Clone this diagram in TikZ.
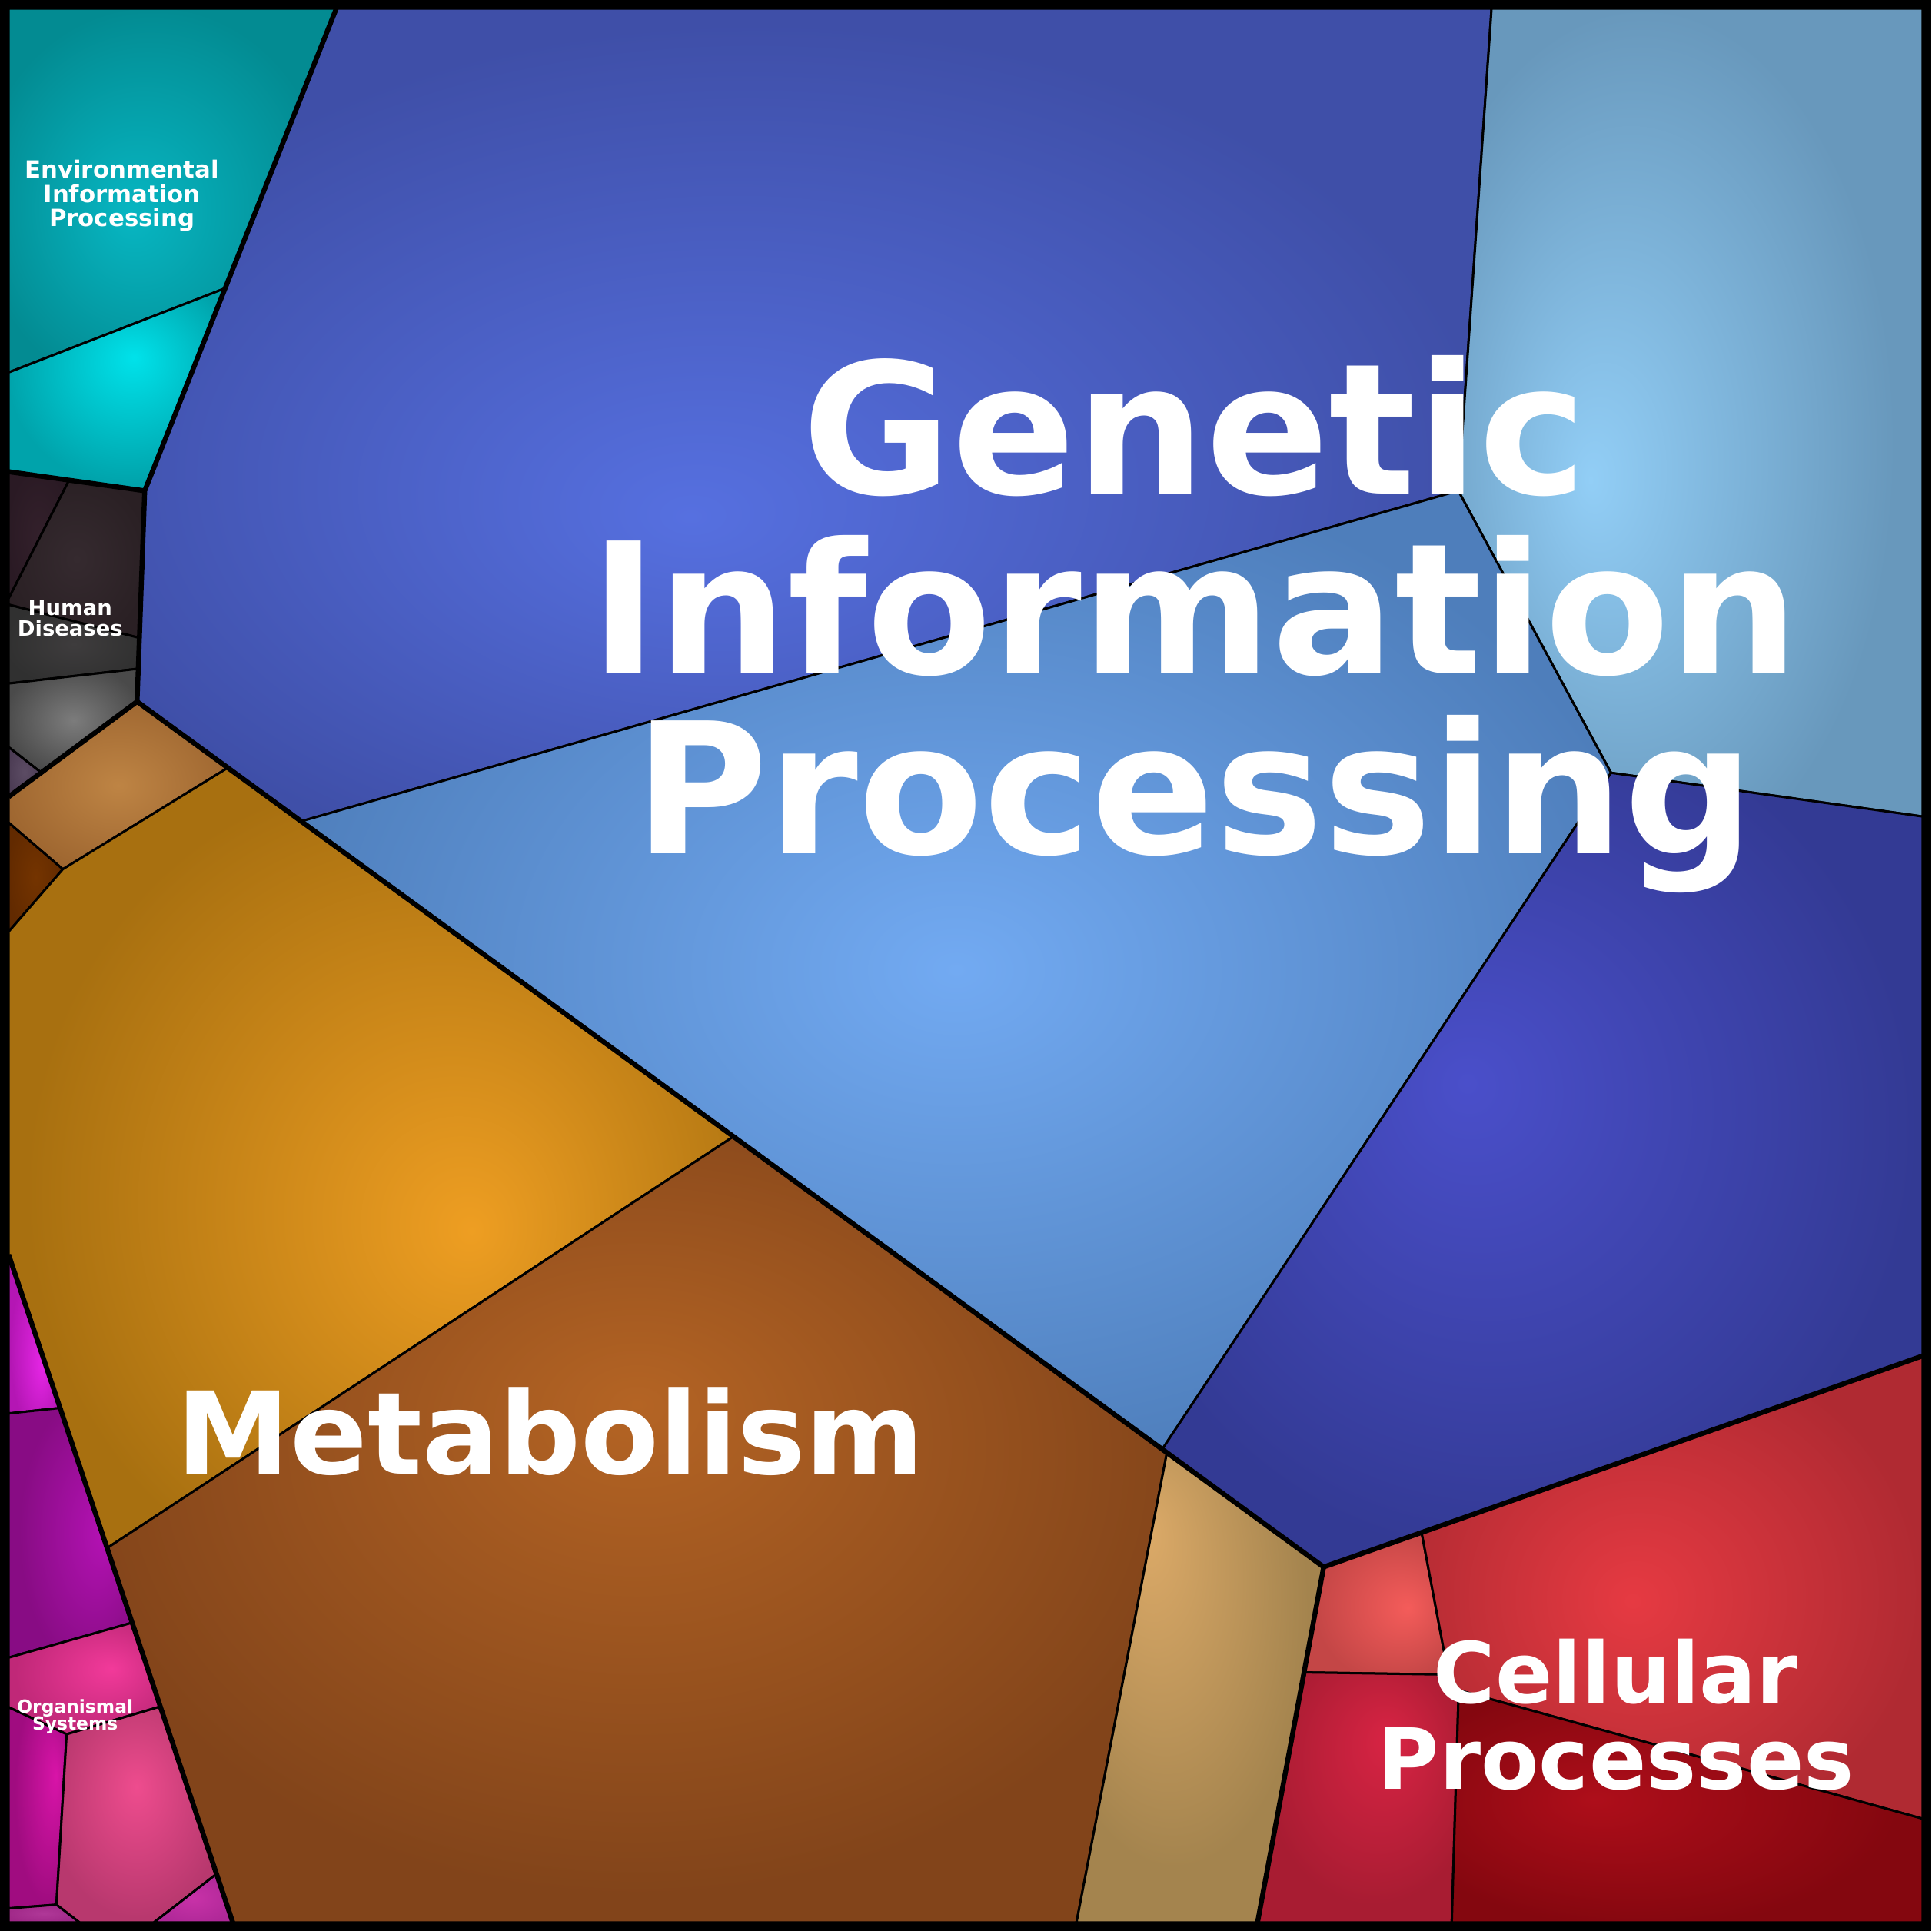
\documentclass[tikz,border=0pt]{standalone}
\usepackage{fontspec}
\newfontfamily\cellfont{DejaVu Sans}

\newcounter{cellno}
\newcommand{\voronoicell}[5]{%
  \stepcounter{cellno}\edef\glowname{cellglow\arabic{cellno}}%
  \definecolor{cellin}{HTML}{#1}\definecolor{cellout}{HTML}{#2}%
  \pgfdeclareradialshading[cellin,cellout]{\glowname}{\pgfpoint{#3bp}{#4bp}}%
    {color(0bp)=(cellin); color(27bp)=(cellout); color(50bp)=(cellout)}%
  \shade [shading=\glowname, draw, cellline] #5 -- cycle;}

\begin{document}
\begin{tikzpicture}[x=0.016cm, y=-0.016cm,
    cellline/.style={line width=0.03cm, line join=round},
    outline/.style={line width=0.064cm, line join=round},
    regionname/.style={text=white, align=center, inner sep=0pt}]
  \useasboundingbox (0,0) rectangle (1568,1568);

  \coordinate (nw) at (7,7);
  \coordinate (ne) at (1561,7);
  \coordinate (se) at (1561,1561);
  \coordinate (sw) at (7,1561);

  \coordinate (e1) at (273,7);
  \coordinate (e2) at (183,234);
  \coordinate (e3) at (117.5,398.5);
  \coordinate (e4) at (7,302.4);
  \coordinate (e5) at (7,383);

  \coordinate (h1) at (56,390);
  \coordinate (h2) at (7,486);
  \coordinate (h3) at (7,491);
  \coordinate (h4) at (113.2,518);
  \coordinate (h5) at (112.3,543);
  \coordinate (h6) at (7,555);
  \coordinate (h7) at (111.3,569.7);
  \coordinate (h8) at (33,627);
  \coordinate (h9) at (7,606.7);
  \coordinate (h10) at (7,647);

  \coordinate (g1) at (1211,7);
  \coordinate (g2) at (1184,398.5);
  \coordinate (g3) at (244.5,666.9);
  \coordinate (g4) at (1561,663);
  \coordinate (g5) at (1308,627.5);
  \coordinate (g6) at (943.6,1176.8);
  \coordinate (g7) at (1561,1101);
  \coordinate (g8) at (1074.7,1272.4);

  \coordinate (m1) at (184.9,623.5);
  \coordinate (m2) at (51,705.8);
  \coordinate (m3) at (7,668);
  \coordinate (m4) at (7,756.5);
  \coordinate (m5) at (595,923.2);
  \coordinate (m6) at (87,1257);
  \coordinate (m7) at (7,1018.8);
  \coordinate (m8) at (947.4,1179.6);
  \coordinate (m9) at (874,1561);
  \coordinate (m10) at (189,1561);
  \coordinate (m11) at (1021,1561);

  \coordinate (o1) at (48.6,1143.3);
  \coordinate (o2) at (7,1147.7);
  \coordinate (o3) at (107.3,1317.6);
  \coordinate (o4) at (7,1346);
  \coordinate (o5) at (130.2,1385.7);
  \coordinate (o6) at (54.1,1408.2);
  \coordinate (o7) at (7,1386.3);
  \coordinate (o8) at (45.8,1546.6);
  \coordinate (o9) at (7,1549.6);
  \coordinate (o10) at (64.5,1561);
  \coordinate (o11) at (125,1561);
  \coordinate (o12) at (176,1521.5);

  \coordinate (c1) at (1154.2,1244.3);
  \coordinate (c2) at (1176,1359.8);
  \coordinate (c3) at (1059.5,1358);
  \coordinate (c4) at (1184.3,1372.5);
  \coordinate (c5) at (1561,1476.8);
  \coordinate (c6) at (1178.7,1561);

  % environmental information processing
  \voronoicell{07B6C2}{038B92}{-6.5}{-3.5}{(nw) -- (e1) -- (e2) -- (e4)}
  \voronoicell{00E2EA}{00A3AB}{4}{8}{(e4) -- (e2) -- (e3) -- (e5)}

  % human diseases
  \voronoicell{33202B}{2A1A24}{0}{0}{(e5) -- (h1) -- (h2)}
  \voronoicell{352A2F}{2A2024}{0}{0}{(h1) -- (e3) -- (h4) -- (h3) -- (h2)}
  \voronoicell{3E3C3D}{303030}{0}{0}{(h3) -- (h4) -- (h5) -- (h6)}
  \voronoicell{7C7C7C}{4A4A4A}{0}{0}{(h6) -- (h5) -- (h7) -- (h8) -- (h9)}
  \voronoicell{5C4C64}{4C3C54}{0}{0}{(h9) -- (h8) -- (h10)}

  % genetic information processing
  \voronoicell{5670E0}{3F4FA8}{-4.6}{-6.3}{(e1) -- (g1) -- (g2) -- (g3) -- (h7) -- (e3) -- (e2)}
  \voronoicell{92CEF6}{6898BC}{-10.8}{-4.2}{(g1) -- (ne) -- (g4) -- (g5) -- (g2)}
  \voronoicell{72AAF2}{4E7EBB}{0}{0}{(g3) -- (g2) -- (g5) -- (g6)}
  \voronoicell{4A4FCA}{333A94}{-5}{5.5}{(g5) -- (g4) -- (g7) -- (g8) -- (m8) -- (g6)}

  % metabolism
  \voronoicell{BE8444}{9E6630}{0}{0}{(h10) -- (h7) -- (m1) -- (m2) -- (m3)}
  \voronoicell{743400}{622A00}{0}{0}{(m3) -- (m2) -- (m4)}
  \voronoicell{EE9E22}{A87010}{7}{-4.7}{(m4) -- (m2) -- (m1) -- (m5) -- (m6) -- (m7)}
  \voronoicell{B46424}{82441A}{0}{8}{(m6) -- (m5) -- (g6) -- (m8) -- (m9) -- (m10)}
  \voronoicell{DCAA68}{A4844E}{-11}{17}{(m8) -- (g8) -- (m11) -- (m9)}

  % organismal systems
  \voronoicell{E526E5}{B416B4}{8}{-10}{(m7) -- (o1) -- (o2)}
  \voronoicell{B412B4}{880C84}{14}{0}{(o2) -- (o1) -- (o3) -- (o4)}
  \voronoicell{F23A9A}{C02878}{9}{4.5}{(o4) -- (o3) -- (o5) -- (o6) -- (o7)}
  \voronoicell{D814A8}{A00C80}{16}{8}{(o7) -- (o6) -- (o8) -- (o9)}
  \voronoicell{EE4C8E}{B8386E}{0}{6.5}{(o6) -- (o5) -- (o12) -- (o11) -- (o10) -- (o8)}
  \voronoicell{B03898}{A02888}{0}{0}{(o9) -- (o8) -- (o10) -- (sw)}
  \voronoicell{C832A8}{B02898}{0}{0}{(o11) -- (o12) -- (m10)}

  % cellular processes
  \voronoicell{F45C5A}{C44646}{11}{-1.5}{(g8) -- (c1) -- (c2) -- (c3)}
  \voronoicell{E63A42}{B02A32}{-4}{-1.5}{(c1) -- (g7) -- (c5) -- (c4) -- (c2)}
  \voronoicell{D82444}{A81C32}{8}{12}{(c3) -- (c2) -- (c4) -- (c6) -- (m11)}
  \voronoicell{AE0E1A}{84070F}{-10}{1.5}{(c4) -- (c5) -- (se) -- (c6)}

  \draw [outline] (e1) -- (e3) -- (h7);
  \draw [outline] (e5) -- (e3);
  \draw [outline] (h10) -- (h7) -- (g8) -- (g7);
  \draw [outline] (g8) -- (m11);
  \draw [outline] (m7) -- (m10);
  \draw [line width=0.1216cm] (3.8,3.8) rectangle (1564.2,1564.2);

  \node [regionname, font=\cellfont\bfseries\fontsize{67.4}{66.5}\selectfont] (genetic) at (970,507) {Genetic\\Information\\Processing};
  \node [regionname, anchor=base, font=\cellfont\bfseries\fontsize{42.2}{42}\selectfont] (metabolism) at (447,1197) {Metabolism};
  \node [regionname, font=\cellfont\bfseries\fontsize{31.2}{31.9}\selectfont] (cellular) at (1312,1392.5) {Cellular\\Processes};
  \node [regionname, font=\cellfont\bfseries\fontsize{8.74}{9}\selectfont] (environmental) at (99,159) {Environmental\\Information\\Processing};
  \node [regionname, font=\cellfont\bfseries\fontsize{7.8}{7.6}\selectfont] (human) at (57,502) {Human\\Diseases};
  \node [regionname, font=\cellfont\bfseries\fontsize{6.65}{6.4}\selectfont] (organismal) at (61,1394) {Organismal\\Systems};
\end{tikzpicture}
\end{document}
